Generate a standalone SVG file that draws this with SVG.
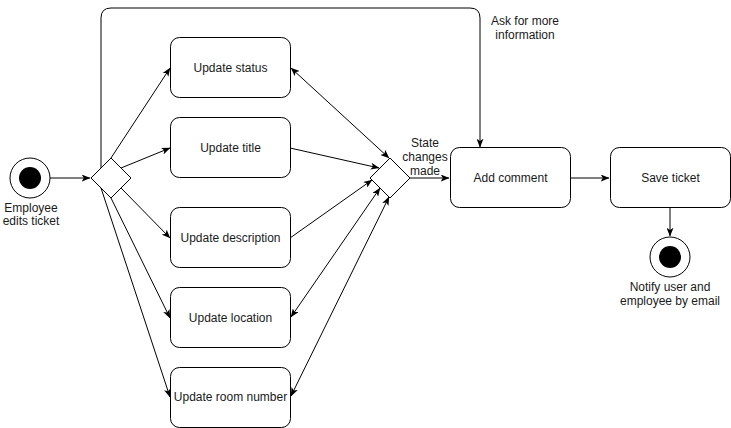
<svg xmlns="http://www.w3.org/2000/svg" width="731" height="428" viewBox="0 0 731 428">
<defs>
<style>
.n{fill:#fff;stroke:#000;stroke-width:1}
.t{font-family:"Liberation Sans",Arial,sans-serif;font-size:12px;fill:#1a1a1a;text-anchor:middle}
.e{fill:none;stroke:#000;stroke-width:1}
.a{marker-end:url(#ar)}
.b{marker-start:url(#ar);marker-end:url(#ar)}
</style>
<marker id="ar" viewBox="0 0 10 8" refX="9.5" refY="4" markerWidth="9" markerHeight="7" orient="auto-start-reverse" markerUnits="userSpaceOnUse">
<path d="M0,0 L10,4 L0,8 L2.5,4 Z" fill="#000"/>
</marker>
</defs>
<rect width="731" height="428" fill="#fff"/>
<g id="connectors">
<path class="e a" d="M50,178 L90,178"/>
<path class="e a" d="M101,168 L101,18 Q101,8 111,8 L470,8 Q480,8 480,18 L480,147"/>
<path class="e a" d="M111,158 L170,68"/>
<path class="e a" d="M121,168 L170,148"/>
<path class="e a" d="M121,188 L170,238"/>
<path class="e a" d="M111,198 L170,318"/>
<path class="e a" d="M101,188 L170,397"/>
<path class="e b" d="M291,68 L389,158"/>
<path class="e a" d="M290,148 L379,168"/>
<path class="e a" d="M290,238 L372,180"/>
<path class="e b" d="M291,317 L380,188"/>
<path class="e b" d="M291,396 L389,197"/>
<path class="e a" d="M410,178 L449,178"/>
<path class="e a" d="M570,178 L609,178"/>
<path class="e a" d="M670,208 L670,236"/>
</g>
<g id="start">
<circle class="n" cx="30" cy="178" r="20"/>
<circle cx="30" cy="178" r="11" fill="#000"/>
<text class="t" x="31" y="212">Employee</text>
<text class="t" x="31" y="225">edits ticket</text>
</g>
<g id="fork">
<polygon class="n" points="91,178 111,158 131,178 111,198"/>
</g>
<g id="updateStatus">
<rect class="n" x="170.5" y="37.5" width="120" height="60" rx="9"/>
<text class="t" x="230.5" y="72">Update status</text>
</g>
<g id="updateTitle">
<rect class="n" x="170.5" y="117.5" width="120" height="60" rx="9"/>
<text class="t" x="230.5" y="152">Update title</text>
</g>
<g id="updateDescription">
<rect class="n" x="170.5" y="207.5" width="120" height="60" rx="9"/>
<text class="t" x="230.5" y="242">Update description</text>
</g>
<g id="updateLocation">
<rect class="n" x="170.5" y="287.5" width="120" height="60" rx="9"/>
<text class="t" x="230.5" y="322">Update location</text>
</g>
<g id="updateRoom">
<rect class="n" x="170.5" y="367.5" width="120" height="60" rx="9"/>
<text class="t" x="230.5" y="401">Update room number</text>
</g>
<g id="merge">
<polygon class="n" points="370,178 390,158 410,178 390,198"/>
<text class="t" x="425" y="147">State</text>
<text class="t" x="425" y="161">changes</text>
<text class="t" x="425" y="175">made</text>
</g>
<g id="addComment">
<rect class="n" x="450.5" y="147.5" width="120" height="60" rx="9"/>
<text class="t" x="510.5" y="182">Add comment</text>
</g>
<g id="askLabel">
<text class="t" x="525" y="25">Ask for more</text>
<text class="t" x="525" y="39">information</text>
</g>
<g id="saveTicket">
<rect class="n" x="610.5" y="147.5" width="120" height="60" rx="9"/>
<text class="t" x="670.5" y="182">Save ticket</text>
</g>
<g id="end">
<circle class="n" cx="670" cy="257" r="20"/>
<circle cx="670" cy="257" r="11" fill="#000"/>
<text class="t" x="670" y="291">Notify user and</text>
<text class="t" x="670" y="305">employee by email</text>
</g>
</svg>
